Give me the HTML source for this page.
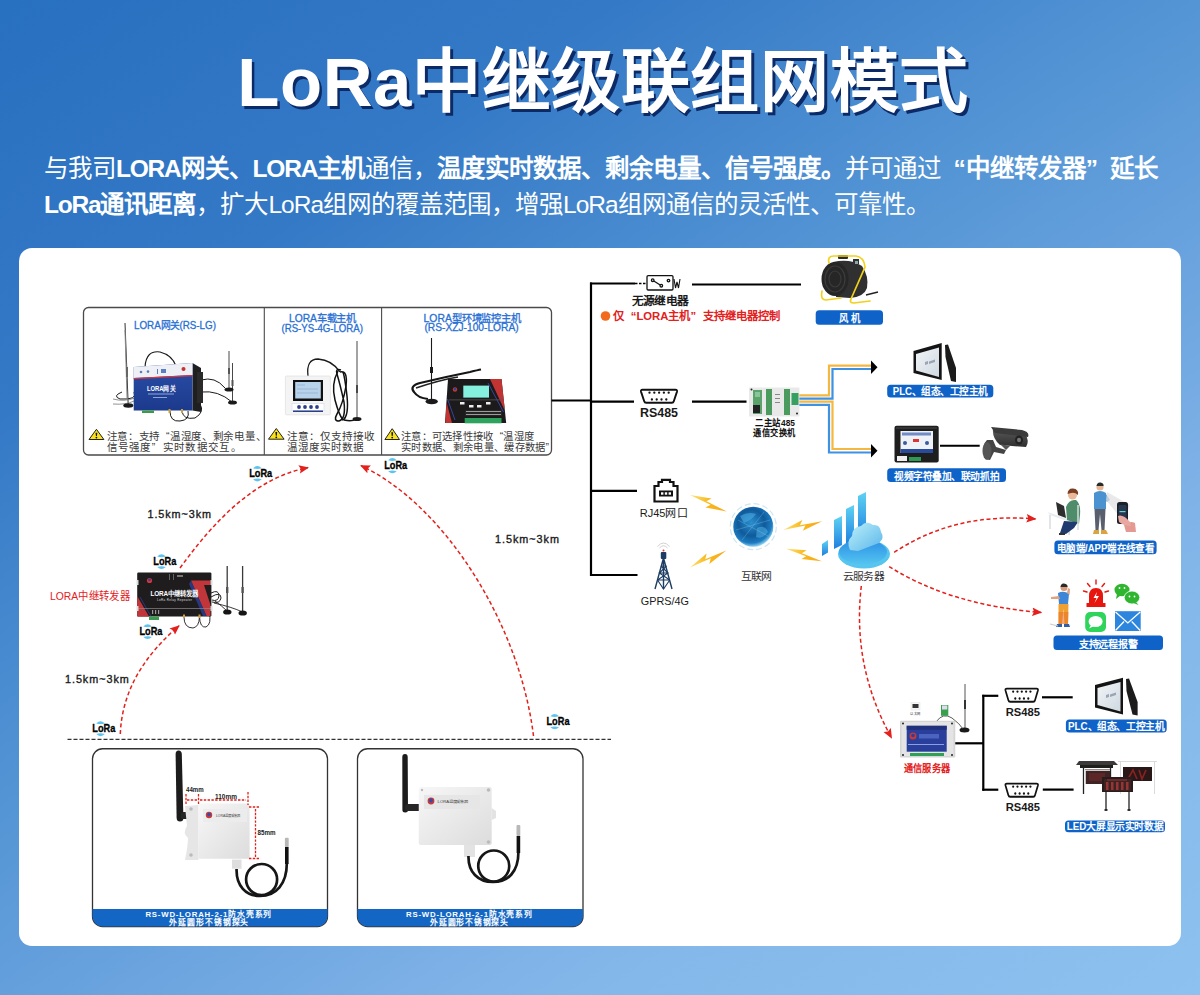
<!DOCTYPE html>
<html lang="zh-CN"><head><meta charset="utf-8">
<style>
html,body{margin:0;padding:0;}
body{width:1200px;height:995px;overflow:hidden;position:relative;font-family:"Liberation Sans",sans-serif;
background:linear-gradient(146deg,#2870c0 0%,#3479c6 23%,#5495d5 45%,#649fdc 55%,#7fb2e7 72%,#84b8ea 78%,#8dc1ef 100%);}
.abs{position:absolute;white-space:nowrap;}
#title{left:0;top:41px;width:1206px;text-align:center;font-size:69px;font-weight:900;letter-spacing:0.6px;color:#fff;line-height:84px;
text-shadow:2.5px 2.5px 0 #0b2a66;}
#para{left:44px;top:150.5px;font-size:24.5px;color:#fff;line-height:36px;}
#para b{font-weight:bold;}
.la{letter-spacing:-1.2px;}.lb{letter-spacing:-1.2px;}.lr{letter-spacing:-1px;}
.ql,.qr{display:inline-block;width:1em;}.ql{text-align:right;}.qr{text-align:left;}
#card{left:19px;top:247.5px;width:1162px;height:698px;background:#fff;border-radius:13px;}
</style></head><body>
<div id="title" class="abs">LoRa中继级联组网模式</div>
<div id="para" class="abs"><span id="l1">与我司<b><span class="la">LORA</span>网关、<span class="la">LORA</span>主机</b>通信，<b>温度实时数据、剩余电量、信号强度。</b>并可通过<b><span class="ql">“</span>中继转发器<span class="qr">”</span>延长</b></span><br><span id="l2"><b><span class="lb">LoRa</span>通讯距离</b>，扩大<span class="lr">LoRa</span>组网的覆盖范围，增强<span class="lr">LoRa</span>组网通信的灵活性、可靠性。</span></div>
<div id="card" class="abs"></div>
<svg class="abs" style="left:0;top:0" width="1200" height="995" viewBox="0 0 1200 995">
<defs>
<marker id="ar" viewBox="0 0 10 10" refX="9" refY="5" markerWidth="10" markerHeight="10" markerUnits="userSpaceOnUse" orient="auto"><path d="M0,0.8 L10,5 L0,9.2 L1.8,5 Z" fill="#e3201b"/></marker>
<linearGradient id="bolt" x1="0" y1="0" x2="1" y2="0"><stop offset="0" stop-color="#fde27a"/><stop offset="0.5" stop-color="#f9b81a"/><stop offset="1" stop-color="#f7a81e"/></linearGradient>
<radialGradient id="globe" cx="0.45" cy="0.4" r="0.6"><stop offset="0" stop-color="#2a8fd0"/><stop offset="0.55" stop-color="#0f5a9a"/><stop offset="0.85" stop-color="#1c7cc2"/><stop offset="1" stop-color="#8fd0f0"/></radialGradient>
</defs>
<!-- product box -->
<rect x="83.5" y="307.5" width="468" height="147.5" rx="5" fill="none" stroke="#4a4a4a" stroke-width="1.3"/>
<line x1="264.3" y1="308" x2="264.3" y2="455" stroke="#4a4a4a" stroke-width="1.1"/>
<line x1="381.6" y1="308" x2="381.6" y2="455" stroke="#4a4a4a" stroke-width="1.1"/>
<!-- bus -->
<g stroke="#000" stroke-width="2.2" fill="none">
<line x1="551.5" y1="400.5" x2="592" y2="400.5"/>
<line x1="591" y1="282.5" x2="591" y2="576"/>
<line x1="590" y1="283.5" x2="635" y2="283.5"/>
<line x1="590" y1="401.6" x2="634" y2="401.6"/>
<line x1="590" y1="490.8" x2="637" y2="490.8"/>
<line x1="590" y1="575" x2="637.5" y2="575"/>
<line x1="692" y1="284.5" x2="801" y2="284.5"/>
<line x1="692" y1="401.7" x2="746.5" y2="401.7"/>
<line x1="955" y1="743.3" x2="984" y2="743.3"/>
<line x1="983.3" y1="694.8" x2="983.3" y2="790.7"/>
<line x1="982.3" y1="695.8" x2="998.3" y2="695.8"/>
<line x1="982.3" y1="789.7" x2="998.3" y2="789.7"/>
<line x1="1042" y1="697.3" x2="1072.7" y2="697.3"/>
<line x1="1042.8" y1="789.6" x2="1073.6" y2="789.6"/>
<line x1="940" y1="445.75" x2="979.7" y2="445.75"/>
</g>
<line x1="635" y1="283.5" x2="647" y2="283.5" stroke="#000" stroke-width="1.3" stroke-dasharray="2.5 1.5"/>
<!-- ground line -->
<line x1="67.5" y1="739.4" x2="611" y2="739.4" stroke="#333" stroke-width="1.1" stroke-dasharray="4 2"/>
<!-- sensor boxes -->
<rect x="92.5" y="748.75" width="235" height="177.75" rx="10" fill="#fff" stroke="#333" stroke-width="1.3"/>
<path d="M92.5,909 H327.5 V916.5 A10,10 0 0 1 317.5,926.5 H102.5 A10,10 0 0 1 92.5,916.5 Z" fill="#1466c4"/>
<rect x="357.5" y="748.75" width="225.5" height="177.75" rx="10" fill="#fff" stroke="#333" stroke-width="1.3"/>
<path d="M357.5,909 H583 V916.5 A10,10 0 0 1 573,926.5 H367.5 A10,10 0 0 1 357.5,916.5 Z" fill="#1466c4"/>
<!-- red dashed arcs -->
<g fill="none" stroke="#e3201b" stroke-width="1.5" stroke-dasharray="4 2.6" marker-end="url(#ar)">
<path d="M180,568 C215,520 255,478 308,467.6"/>
<path d="M533.5,736 C520,625 445,505 361,465.6"/>
<path d="M120.3,734 C122,690 145,655 179,625.8"/>
<path d="M894.2,552.4 Q955,512 1035.5,519"/>
<path d="M889.2,566.6 Q950,605 1041.2,612.5"/>
<path d="M861.3,586 C855,640 865,690 891.5,737.8"/>
</g>
<!-- wires from switch -->
<g fill="none" stroke-width="2.2">
<path d="M799,395.3 H829 V365.6 H872" stroke="#f5b83d"/>
<path d="M799,398.6 H832.5 V369 H872" stroke="#3d92e6"/>
<path d="M799,401.7 H832.5 V449 H872" stroke="#f5b83d"/>
<path d="M799,404.8 H829 V452.5 H872" stroke="#3d92e6"/>
</g>
<path d="M871,360.5 L877.5,367.3 L871,374 Z" fill="#000"/>
<path d="M871,444 L877.5,450.8 L871,457.5 Z" fill="#000"/>
<!-- relay icon -->
<g stroke="#111" fill="none" stroke-width="1.3">
<rect x="647" y="275.6" width="26" height="14.4" rx="1.2" fill="#fff"/>
<circle cx="652.7" cy="280.2" r="1.3"/><circle cx="661.3" cy="285.7" r="1.3"/><circle cx="668.5" cy="280.6" r="1.3"/>
<line x1="653.8" y1="281" x2="660.2" y2="285"/>
<path d="M674,279 L675.5,288 L677,282 L678.5,288 L680,279" stroke-width="1.1"/>
</g>
<!-- DB9 icons -->
<g id="db9a">
<path d="M642.5,389.8 H675.5 Q677.5,389.8 677,391.6 L673.8,401.2 Q673.4,402.7 671.8,402.7 H646.2 Q644.6,402.7 644.2,401.2 L641,391.6 Q640.5,389.8 642.5,389.8 Z" fill="#fff" stroke="#111" stroke-width="1.9"/>
<g fill="#111"><circle cx="649.5" cy="392.7" r="1.15"/><circle cx="654.3" cy="392.7" r="1.15"/><circle cx="659.1" cy="392.7" r="1.15"/><circle cx="663.9" cy="392.7" r="1.15"/><circle cx="668.7" cy="392.7" r="1.15"/>
<circle cx="651.9" cy="399.5" r="1.15"/><circle cx="656.7" cy="399.5" r="1.15"/><circle cx="661.5" cy="399.5" r="1.15"/><circle cx="666.3" cy="399.5" r="1.15"/></g>
</g>
<g transform="translate(1005.5,688.6) scale(0.9,1.02) translate(-641,-389.8)">
<path d="M642.5,389.8 H675.5 Q677.5,389.8 677,391.6 L673.8,401.2 Q673.4,402.7 671.8,402.7 H646.2 Q644.6,402.7 644.2,401.2 L641,391.6 Q640.5,389.8 642.5,389.8 Z" fill="#fff" stroke="#111" stroke-width="1.9"/>
<g fill="#111"><circle cx="649.5" cy="392.7" r="1.15"/><circle cx="654.3" cy="392.7" r="1.15"/><circle cx="659.1" cy="392.7" r="1.15"/><circle cx="663.9" cy="392.7" r="1.15"/><circle cx="668.7" cy="392.7" r="1.15"/>
<circle cx="651.9" cy="399.5" r="1.15"/><circle cx="656.7" cy="399.5" r="1.15"/><circle cx="661.5" cy="399.5" r="1.15"/><circle cx="666.3" cy="399.5" r="1.15"/></g>
</g>
<g transform="translate(1005.5,783.6) scale(0.9,1.02) translate(-641,-389.8)">
<path d="M642.5,389.8 H675.5 Q677.5,389.8 677,391.6 L673.8,401.2 Q673.4,402.7 671.8,402.7 H646.2 Q644.6,402.7 644.2,401.2 L641,391.6 Q640.5,389.8 642.5,389.8 Z" fill="#fff" stroke="#111" stroke-width="1.9"/>
<g fill="#111"><circle cx="649.5" cy="392.7" r="1.15"/><circle cx="654.3" cy="392.7" r="1.15"/><circle cx="659.1" cy="392.7" r="1.15"/><circle cx="663.9" cy="392.7" r="1.15"/><circle cx="668.7" cy="392.7" r="1.15"/>
<circle cx="651.9" cy="399.5" r="1.15"/><circle cx="656.7" cy="399.5" r="1.15"/><circle cx="661.5" cy="399.5" r="1.15"/><circle cx="666.3" cy="399.5" r="1.15"/></g>
</g>
<!-- RJ45 icon -->
<path d="M654.5,501.5 V486 H658.5 V482 H662 V479.8 H670 V482 H673.5 V486 H677.5 V501.5 Z" fill="#fff" stroke="#111" stroke-width="2.2" stroke-linejoin="miter"/>
<rect x="659" y="490.5" width="14" height="6" fill="#111"/>
<g fill="#fff"><rect x="661" y="492.3" width="2.4" height="2.4"/><rect x="664.8" y="492.3" width="2.4" height="2.4"/><rect x="668.6" y="492.3" width="2.4" height="2.4"/></g>
<!-- tower icon -->
<g stroke="#1d3d63" fill="none" stroke-width="1.4">
<path d="M663.5,558 L655,589 M663.5,558 L672,589 M663.5,558 V589"/>
<path d="M661,566 L666.5,566 M659.3,573 L668,573 M657.5,580 L669.8,580 M661,566 L668,573 L657.5,580 M666.5,566 L659.3,573 L669.8,580 M657.5,580 L663.5,589 L669.8,580" stroke-width="1.1"/>
</g>
<rect x="660.8" y="552" width="5.5" height="7" rx="1" fill="#1d3d63"/>
<circle cx="663.5" cy="550.5" r="1" fill="#e23a2a"/>
<path d="M659.5,548 Q663.5,543.5 667.5,548 M657.5,546.5 Q663.5,539.5 669.5,546.5" stroke="#bbb" stroke-width="0.7" fill="none"/>
<!-- lightning bolts -->
<g fill="url(#bolt)">
<path transform="translate(690,495) rotate(23.4) scale(1.061)" d="M0,0 L20,-5 L16.5,-0.8 L38,0.5 L18,5 L21.5,0.8 Z"/>
<path transform="translate(690,567.5) rotate(-25.9) scale(1.053)" d="M0,0 L20,-5 L16.5,-0.8 L38,0.5 L18,5 L21.5,0.8 Z"/>
<path transform="translate(783.3,530) rotate(-13.5) scale(1.047)" d="M0,0 L20,-5 L16.5,-0.8 L38,0.5 L18,5 L21.5,0.8 Z"/>
<path transform="translate(786,548.7) rotate(18.4) scale(0.999)" d="M0,0 L20,-5 L16.5,-0.8 L38,0.5 L18,5 L21.5,0.8 Z"/>
</g>
<!-- globe -->
<circle cx="753.3" cy="526.7" r="23" fill="none" stroke="#cfe6f2" stroke-width="1.2" stroke-dasharray="6 3"/>
<circle cx="753.3" cy="526.7" r="20" fill="url(#globe)"/>
<path d="M740,516 Q748,511 756,514 Q752,520 744,523 Z M757,528 Q765,524 768,532 Q762,540 756,537 Z" fill="#4fb0e6" opacity="0.55"/>
<path d="M736,530 L770,520 M742,540 L764,512 M738,520 L768,536" stroke="#9ad8f5" stroke-width="0.4" opacity="0.7"/>
<!-- cloud server -->
<defs>
<linearGradient id="bar" x1="0" y1="1" x2="0" y2="0"><stop offset="0" stop-color="#1f7fe0"/><stop offset="1" stop-color="#5fd3f2"/></linearGradient>
<linearGradient id="base" x1="0" y1="0" x2="0" y2="1"><stop offset="0" stop-color="#2a8fe6"/><stop offset="1" stop-color="#55c4f0"/></linearGradient>
<linearGradient id="cl" x1="0" y1="0" x2="1" y2="1"><stop offset="0" stop-color="#bdf0fa"/><stop offset="1" stop-color="#5ab6ea"/></linearGradient>
</defs>
<path d="M822,544 L828,540 V552.5 L822,556 Z" fill="url(#bar)"/>
<path d="M834,520 L842,516 V545 L834,549 Z" fill="url(#bar)"/>
<path d="M846,509 L854,505 V540 L846,544 Z" fill="url(#bar)"/>
<path d="M858,496 L866,492 V534 L858,538 Z" fill="url(#bar)"/>
<ellipse cx="864" cy="554" rx="26" ry="14.5" fill="#56c6ef"/>
<ellipse cx="863" cy="552" rx="24" ry="12.5" fill="url(#base)"/>
<path d="M850,550 Q846,541 852,536 Q852,527 861,526 Q866,520 873,525 Q880,524 881,532 Q885,538 879,543 L858,551 Z" fill="url(#cl)"/>
<defs>
<linearGradient id="gwblue" x1="0" y1="0" x2="0" y2="1"><stop offset="0" stop-color="#2a4ea8"/><stop offset="1" stop-color="#1c3a8c"/></linearGradient>
<linearGradient id="wbox" x1="0" y1="0" x2="1" y2="1"><stop offset="0" stop-color="#f7f7f7"/><stop offset="1" stop-color="#dcdcdc"/></linearGradient>
<linearGradient id="scr" x1="0" y1="0" x2="1" y2="1"><stop offset="0" stop-color="#f0f4f8"/><stop offset="1" stop-color="#c9d3dc"/></linearGradient>
</defs>
<!-- ===== S1 gateway ===== -->
<g fill="none" stroke="#1a1a1a" stroke-width="0.9">
<path d="M125,323 L128.2,405"/>
<path d="M122,392 Q112,396 120,399 Q138,400 134,392" stroke-width="1"/>
<path d="M113,399 Q124,402 135,398 M113,404 Q126,405 134,401" stroke="#777" stroke-width="0.8"/>
<path d="M145,367 Q146,350 160,352 Q172,355 176,366" stroke-width="1.1"/>
<path d="M201,380 Q215,376 225,388 M201,392 Q218,390 232,402" stroke-width="1"/>
<path d="M170,411 Q170,422 180,421 Q190,420 188,411 M182,411 Q183,420 195,418 Q205,412 200,404" stroke-width="1"/>
</g>
<path d="M124.5,330 L125.5,330 L127.6,400 L126.6,400Z" fill="#888"/>
<rect x="126" y="367" width="2" height="10" fill="#666"/>
<ellipse cx="128.3" cy="405.5" rx="5" ry="2.2" fill="#1a1a1a"/>
<g stroke="#333" stroke-width="0.9"><line x1="229" y1="351" x2="229" y2="389"/><line x1="232.5" y1="363" x2="232.5" y2="402"/></g>
<rect x="228" y="368" width="2" height="6" fill="#555"/><rect x="231.5" y="380" width="2" height="6" fill="#555"/>
<ellipse cx="229" cy="389.5" rx="4.5" ry="2" fill="#1a1a1a"/><ellipse cx="232.5" cy="402.5" rx="4.5" ry="2" fill="#1a1a1a"/>
<path d="M192.5,363 L201,368 L201,412 L192.5,410.5 Z" fill="#1f1f1f"/>
<path d="M197,372 L203,372 L203,403 L197,403Z" fill="#2a2a2a"/>
<path d="M133.7,367 L192.5,363 L192.5,410.5 L133.7,410.5 Z" fill="url(#gwblue)"/>
<path d="M133.7,367 L192.5,363 L192.5,375 L133.7,378 Z" fill="#eef0f5"/>
<path d="M133.7,378 L192.5,375 L192.5,376.2 L133.7,379.2 Z" fill="#d9363e"/>
<g fill="#5a7fc0"><circle cx="141" cy="372" r="1.3"/><circle cx="148" cy="371.6" r="1.3"/><rect x="157" y="369" width="1" height="5"/><rect x="161" y="369" width="5" height="4"/></g>
<circle cx="183.5" cy="369" r="2" fill="#c83030"/>
<text x="147" y="391" font-size="6.5" font-weight="bold" fill="#fff" textLength="29" lengthAdjust="spacingAndGlyphs">LORA网关</text>
<rect x="148" y="393.5" width="26" height="1" fill="#8fa6d8"/><rect x="153" y="397" width="14" height="1" fill="#8fa6d8"/>
<rect x="142" y="410.5" width="12" height="2.5" fill="#3d9a4a"/>
<rect x="168.5" y="409" width="2" height="4" fill="#c9a040"/><rect x="181" y="409" width="2" height="4" fill="#c9a040"/>
<!-- ===== S2 car host ===== -->
<path d="M308,376 Q306,359 318,359 Q332,360 340,372" fill="none" stroke="#1a1a1a" stroke-width="1.3"/>
<g fill="none" stroke="#111" stroke-width="1.5">
<path d="M340,372 Q348,370 346,386 Q343,404 337,414 Q333,421 339,421 Q346,419 344,402 Q340,384 337,374 Q335,368 341,370"/>
<path d="M338,371 Q331,384 335,400 Q339,415 343,420 Q349,416 347,396 Q345,378 343,372"/>
<path d="M344,420 Q352,422 356,419"/>
</g>
<line x1="357" y1="341" x2="357" y2="417" stroke="#666" stroke-width="1.2"/>
<rect x="356.2" y="385" width="1.6" height="8" fill="#333"/>
<ellipse cx="357" cy="419" rx="4.5" ry="2" fill="#1a1a1a"/>
<rect x="285.4" y="376" width="45" height="38.8" rx="1" fill="#f4f4f4" stroke="#e2e2e2" stroke-width="0.8"/>
<rect x="293" y="380" width="30" height="21" fill="#111"/>
<rect x="295.2" y="382" width="25.6" height="16.5" fill="#b8d2ea"/>
<g stroke="#7a9bbd" stroke-width="0.5"><line x1="297" y1="385" x2="305" y2="385"/><line x1="297" y1="389" x2="318" y2="389"/><line x1="297" y1="393" x2="318" y2="393"/></g>
<rect x="292" y="403.5" width="32" height="7" fill="#fff" stroke="#c8d2e6" stroke-width="0.5"/>
<g fill="#2b3f8a"><circle cx="299" cy="407" r="1.9"/><circle cx="305" cy="407" r="1.9"/><circle cx="311" cy="407" r="1.9"/><circle cx="317" cy="407" r="1.9"/></g>
<rect x="293" y="410.5" width="30" height="1.5" fill="#2b3f8a"/>
<!-- ===== S3 env host ===== -->
<path d="M431.5,338 L431.5,399" stroke="#1a1a1a" stroke-width="1.1"/>
<rect x="430" y="367" width="3" height="6" fill="#1a1a1a"/>
<path d="M428,399 Q418,398 414,392 Q409,386 420,383 Q445,377 470,372 Q478,370 481,369.5" fill="none" stroke="#151515" stroke-width="2.2"/>
<path d="M416,388 Q440,380 458,377" fill="none" stroke="#222" stroke-width="1.6"/>
<ellipse cx="431.7" cy="401.5" rx="6.2" ry="2.8" fill="#1a1a1a"/>
<path d="M448,379 L501.5,379 L506.2,423 L445,423 Z" fill="#1c1a1b"/>
<path d="M490,379 L501.5,379 L504.5,407 L504,409 Z" fill="#c23434"/>
<path d="M488,383 L503.5,412" stroke="#3a48b0" stroke-width="0.9"/>
<path d="M446.5,402 L452,423 L445.3,423 Z" fill="#c23434"/>
<path d="M447.5,399 L455,420" stroke="#3a48b0" stroke-width="0.9"/>
<rect x="463.3" y="385.6" width="25.7" height="12" fill="#86f0df"/>
<circle cx="455" cy="389.5" r="2.2" fill="#c83838"/><circle cx="455" cy="389" r="1.2" fill="#2a44a0"/>
<rect x="449" y="399.5" width="54" height="0.8" fill="#555"/>
<g fill="#eee"><rect x="460" y="402" width="4.5" height="2.5"/><rect x="469" y="405" width="4.5" height="2.5"/><rect x="477" y="405" width="4.5" height="2.5"/><rect x="486" y="402" width="4.5" height="2.5"/></g>
<rect x="465" y="410" width="37" height="6" fill="#262626"/>
<g fill="#bbb"><rect x="466" y="411" width="35" height="0.8"/><rect x="466" y="414" width="35" height="0.8"/></g>
<rect x="464.7" y="418" width="36.8" height="5.3" fill="#2ea35e"/>
<!-- ===== repeater ===== -->
<g fill="none" stroke="#222" stroke-width="0.9">
<path d="M211,593 Q219,589 219,596 Q218,602 212,600 M211,597 Q221,591 221,598 Q220,604 212,602" stroke-width="1"/>
<path d="M215,601 Q222,606 227,611 M214,603 Q232,607 242.5,612"/>
<path d="M184,617 Q184,628 193,628 Q199,627 199.5,617 M199.5,617 Q200,628 206,627 Q212,624 209,612" stroke="#333" stroke-width="1"/>
</g>
<g stroke="#3a3a3a" stroke-width="1.3"><line x1="227.2" y1="566" x2="227.2" y2="611"/><line x1="242.6" y1="566" x2="242.6" y2="612"/></g>
<rect x="226" y="587" width="2.4" height="6" fill="#555"/><rect x="241.4" y="587" width="2.4" height="6" fill="#555"/>
<ellipse cx="227.3" cy="612" rx="4.2" ry="2.6" fill="#151515"/><ellipse cx="242.7" cy="613" rx="4.2" ry="2.6" fill="#151515"/>
<rect x="137.2" y="572.5" width="74.2" height="44" rx="1.2" fill="#1e1c1d"/>
<path d="M191,580.5 L210.5,580.5 L210.5,585 L204,585 L210.5,605 L210.5,616 L206.5,616 Z" fill="#c0363a"/>
<path d="M191,580.5 L206.5,616 L203,616 L189,584 Z" fill="#2a3f9a" opacity="0.8"/>
<path d="M137.2,596 L149,616.5 L137.2,616.5 Z" fill="#c0363a"/>
<path d="M140,597 L151,616.5" stroke="#2a3f9a" stroke-width="0.8"/>
<rect x="137.2" y="608" width="74" height="0.7" fill="#8a8a8a"/>
<rect x="136.5" y="580" width="2" height="5" fill="#ddd"/><rect x="136.5" y="606" width="2" height="5" fill="#ddd"/>
<rect x="210.5" y="580" width="2" height="5" fill="#ddd"/><rect x="210.5" y="606" width="2" height="5" fill="#ddd"/>
<text x="150.5" y="595.5" font-size="6.4" font-weight="bold" fill="#fff" textLength="47" lengthAdjust="spacing">LORA中继转发器</text>
<text x="157" y="600.5" font-size="3" fill="#ddd" textLength="35" lengthAdjust="spacing">LoRa Relay Repeater</text>
<circle cx="149.5" cy="580.5" r="2.6" fill="#d33"/><circle cx="149.5" cy="579.8" r="1.4" fill="#2a44a0"/>
<g fill="#777"><rect x="169" y="574" width="0.8" height="6"/><rect x="173" y="574" width="0.8" height="6"/><rect x="177" y="575" width="6" height="2"/></g>
<rect x="149" y="616.5" width="10" height="3.5" fill="#3a9a50"/>
<g fill="#999"><rect x="152" y="610" width="1.2" height="4"/><rect x="155" y="610" width="1.2" height="4"/><rect x="158" y="610" width="1.2" height="4"/></g>
<rect x="183" y="614.5" width="2" height="3.5" fill="#c9a040"/><rect x="198.5" y="614.5" width="2" height="3.5" fill="#c9a040"/>
<defs>
<radialGradient id="fanface" cx="0.5" cy="0.5" r="0.5"><stop offset="0" stop-color="#1a1a1a"/><stop offset="0.6" stop-color="#2a2a2a"/><stop offset="0.85" stop-color="#3a3a3a"/><stop offset="1" stop-color="#222"/></radialGradient>
<linearGradient id="camg" x1="0" y1="0" x2="0" y2="1"><stop offset="0" stop-color="#5a5a5a"/><stop offset="1" stop-color="#2e2e2e"/></linearGradient>
<linearGradient id="mon" x1="0" y1="0" x2="1" y2="1"><stop offset="0" stop-color="#f2f5f8"/><stop offset="1" stop-color="#cfd8e0"/></linearGradient>
</defs>
<!-- ===== fan ===== -->
<path d="M833,262 Q850,258 862,266 Q869,276 867,288 Q864,297 850,298 L836,297 Z" fill="#303030"/>
<rect x="838" y="255" width="10" height="4" rx="1" fill="#2a2a2a"/>
<rect x="853" y="259" width="6" height="5" fill="#333"/><rect x="855" y="261" width="3" height="3" fill="#8aa"/>
<ellipse cx="835" cy="279" rx="13.5" ry="17" fill="#262626"/>
<ellipse cx="835" cy="279" rx="10" ry="13" fill="none" stroke="#3c3c3c" stroke-width="1.2"/>
<ellipse cx="835" cy="279" rx="6" ry="8" fill="none" stroke="#3a3a3a" stroke-width="1.2"/>
<g fill="none" stroke="#f0d21c" stroke-width="1.7" stroke-linecap="round">
<path d="M829,263 Q827,256 834,256 L856,256 Q864,257 865,267 L851,299 Q849,303 854,303 L870,301"/>
<path d="M822,291 Q820,300 826,300 L841,298"/>
</g>
<path d="M866,295 L878,292" stroke="#222" stroke-width="1.4"/>
<!-- ===== switch module ===== -->
<rect x="749" y="387.5" width="50.4" height="29" fill="#e9e9e9"/>
<rect x="753" y="390" width="9" height="24" fill="#5aa36a"/>
<rect x="755" y="392" width="5" height="5" fill="#8ac49a"/>
<rect x="753" y="405" width="7" height="8" fill="#222"/>
<rect x="766" y="389" width="6" height="26" fill="#4b9a5e"/>
<rect x="784" y="389" width="6" height="26" fill="#4b9a5e"/>
<rect x="791.5" y="393" width="7" height="12" fill="#36a060"/>
<g fill="#888"><rect x="775" y="394" width="5" height="1"/><rect x="775" y="398" width="5" height="1"/><rect x="775" y="402" width="5" height="1"/></g>
<circle cx="751.5" cy="389.5" r="1" fill="#222"/><circle cx="797" cy="413.5" r="1" fill="#222"/>
<!-- ===== monitor 1 ===== -->
<path d="M913.5,351 L941.7,343.1 L941.7,380 L913.5,372.9 Z" fill="#141414"/>
<path d="M916,354 L939,347.5 L939,377 L916,370.5 Z" fill="url(#mon)"/>
<path d="M925,362 L928,361 L928,364 L925,365Z M929,361.5 L935,359.5 L935,362 L929,364Z" fill="#6a7a90" opacity="0.6"/>
<path d="M945,345 L948,344.5 L956,368 L956,382 L951,381 L945.5,357 Z" fill="#1b1b1b"/>
<!-- ===== video box ===== -->
<rect x="894.5" y="425.7" width="44.2" height="36.9" rx="2" fill="#1e1e1e"/>
<rect x="896" y="427" width="41" height="2" fill="#333"/>
<rect x="900.5" y="431" width="32.5" height="22" fill="#eef2f6"/>
<rect x="902" y="432.5" width="29" height="3" fill="#3a60b0" opacity="0.7"/>
<rect x="913" y="439" width="6" height="3" fill="#d33"/>
<circle cx="905" cy="443" r="2" fill="#3a5aa0"/><circle cx="927" cy="443" r="2" fill="#3a5aa0"/>
<rect x="900.5" y="449" width="32.5" height="4" fill="#2a4a9a"/>
<rect x="897" y="456" width="10" height="5" fill="#f0f0f0"/><rect x="909" y="457" width="12" height="4" fill="#2f9a55"/>
<!-- ===== camera ===== -->
<path d="M984,452 Q982,445 987,440 L993,440 L996,447 L1006,450 L1004,454 L994,452 L990,460 Q985,460 984,452 Z" fill="#444"/>
<ellipse cx="987" cy="451" rx="4.5" ry="9" fill="#555"/>
<path d="M993,429 L1025,434 Q1030,440 1026,447 L1000,445 Q992,438 993,429 Z" fill="url(#camg)"/>
<path d="M991,427 L1022,430 Q1030,432 1028,437 L995,433 Z" fill="#3b3b3b"/>
<ellipse cx="1019" cy="440" rx="4" ry="4.5" fill="#222"/>
<ellipse cx="1019" cy="440" rx="2" ry="2.3" fill="#777"/>
<path d="M1000,444 L1006,450 L1010,446" fill="#555"/>
<!-- ===== communication server ===== -->
<line x1="965" y1="684" x2="965" y2="729" stroke="#555" stroke-width="1"/>
<rect x="964" y="700" width="2" height="9" fill="#333"/>
<ellipse cx="964.5" cy="730" rx="5" ry="2.5" fill="#1a1a1a"/>
<path d="M936,722 Q943,712 952,718 Q960,724 963,729" fill="none" stroke="#333" stroke-width="0.8"/>
<rect x="900" y="720.8" width="55.3" height="36.7" rx="1" fill="#d5d5d5"/>
<rect x="901.5" y="722" width="52" height="34" fill="#e4e4e4"/>
<rect x="906.7" y="725.8" width="40" height="25.9" fill="#2a3f9c"/>
<rect x="906.7" y="725.8" width="40" height="4" fill="#20307a"/>
<circle cx="913" cy="736" r="3.5" fill="#c83838"/><circle cx="913" cy="735.5" r="1.8" fill="#2a3f9c"/>
<rect x="919" y="734" width="20" height="4.5" fill="#4a64c0"/>
<rect x="908" y="744" width="36" height="1" fill="#8aa0e0"/>
<rect x="910" y="753" width="34" height="3" fill="#2fa055"/>
<g fill="#222"><circle cx="903" cy="723.5" r="1"/><circle cx="952" cy="723.5" r="1"/><circle cx="903" cy="755" r="1"/><circle cx="952" cy="755" r="1"/></g>
<!-- tiny RJ45 + card -->
<rect x="911" y="702.5" width="9" height="7.5" fill="#f5f5f5" stroke="#ddd" stroke-width="0.4"/>
<rect x="912.5" y="704" width="6" height="4" fill="#333"/>
<text x="910" y="714.5" font-size="3.6" fill="#333" textLength="11" lengthAdjust="spacingAndGlyphs">以太网</text>
<rect x="941" y="705" width="7.3" height="10.8" fill="#3aa050"/><rect x="942" y="705.5" width="5.3" height="4" fill="#dde"/>
<!-- ===== monitor 2 ===== -->
<path d="M1095,685 L1123,677.7 L1123,714.4 L1095,707.5 Z" fill="#141414"/>
<path d="M1097.5,688 L1120.5,682 L1120.5,711.5 L1097.5,705 Z" fill="url(#mon)"/>
<path d="M1106,695 L1109,694 L1109,697 L1106,698Z M1110,694.5 L1116,692.5 L1116,695 L1110,697Z" fill="#6a7a90" opacity="0.6"/>
<path d="M1126,679 L1129,678.5 L1137.6,702 L1137.6,715.5 L1132.5,714.5 L1126.5,691 Z" fill="#1b1b1b"/>
<!-- ===== LED screens ===== -->
<path d="M1079,761 L1114,761 L1118,765 L1076,765 Z" fill="#3d3939"/>
<rect x="1080" y="765" width="33" height="3" fill="#1e1e1e"/>
<line x1="1083.5" y1="765" x2="1083.5" y2="794" stroke="#222" stroke-width="1.3"/>
<line x1="1110.5" y1="765" x2="1110.5" y2="778" stroke="#222" stroke-width="1.3"/>
<rect x="1085" y="769" width="25" height="15" fill="#3e2424"/>
<rect x="1089" y="773" width="16" height="8" fill="#6a2a2a" opacity="0.7"/>
<g fill="#f2f2f2"><rect x="1085" y="769.5" width="25" height="1.3"/><rect x="1084.5" y="770" width="1.3" height="14"/></g>
<g stroke="#d2d2d2" stroke-width="0.8" fill="none"><path d="M1118,761.5 H1157 M1120.5,761.5 V794 M1154.5,761.5 V794"/></g>
<rect x="1123" y="767" width="29" height="14" fill="#2a1818"/>
<path d="M1128,779 L1133,770 L1137,779 M1139,770 L1142,779 L1146,770" stroke="#8a2222" stroke-width="1.6" fill="none"/>
<rect x="1102" y="777" width="31" height="15" fill="#2a1c1c"/>
<rect x="1104" y="779" width="27" height="12" fill="#3e2222"/>
<g fill="#a33a3a" opacity="0.85"><rect x="1106" y="782" width="2.5" height="8"/><rect x="1111" y="782" width="2.5" height="8"/><rect x="1116" y="782" width="2.5" height="8"/><rect x="1121" y="782" width="2.5" height="8"/><rect x="1126" y="782" width="2.5" height="8"/><rect x="1107" y="779.5" width="20" height="1" /></g>
<line x1="1106" y1="792" x2="1106" y2="810" stroke="#222" stroke-width="1.3"/>
<line x1="1129" y1="792" x2="1129" y2="810" stroke="#222" stroke-width="1.3"/>
<ellipse cx="1106" cy="810" rx="1.8" ry="1" fill="#222"/><ellipse cx="1129" cy="810" rx="1.8" ry="1" fill="#222"/>
<!-- ===== person at desk ===== -->
<path d="M1048,512 L1070,520 L1072,523 L1050,515 Z" fill="#e8ecef"/>
<line x1="1050" y1="515" x2="1050" y2="529" stroke="#cfd4d8" stroke-width="1.2"/>
<line x1="1070" y1="522" x2="1069" y2="535" stroke="#cfd4d8" stroke-width="1.2"/>
<path d="M1056,502 L1064,506 L1066,518 L1058,515 Z" fill="#2d2d2d"/>
<path d="M1066,507 Q1069,499 1076,500 Q1081,504 1080,515 L1079,524 L1067,520 Z" fill="#4e8c6a"/>
<path d="M1064,521 L1078,522 L1074,528 L1066,534 L1060,533 Z" fill="#1f3a6e"/>
<circle cx="1072.5" cy="495" r="4.5" fill="#e9b99a"/>
<path d="M1067.5,494 Q1068,488 1073,488.5 Q1079,489 1078,495 Q1075,492 1071,493 Z" fill="#7a3f20"/>
<rect x="1059" y="533" width="6" height="2" fill="#333"/>
<line x1="1078" y1="505" x2="1078" y2="530" stroke="#d8dde0" stroke-width="1.5"/>
<!-- ===== standing man ===== -->
<circle cx="1100" cy="487" r="3.6" fill="#e6b593"/>
<path d="M1096.5,486 Q1097,482 1100.5,482.5 Q1104,483 1103.5,486 Z" fill="#2b2b2b"/>
<path d="M1094,493 Q1100,489 1106,493 L1106,509 L1094,509 Z" fill="#4a92d0"/>
<path d="M1106,494 L1110,500 L1107,502 L1104,497 Z" fill="#4a92d0"/>
<path d="M1094.5,509 L1105.5,509 L1104.5,530 L1101.5,530 L1100,514 L1098.5,530 L1095.5,530 Z" fill="#5a5f6e"/>
<path d="M1094,530 L1099,530 L1099,534 L1093,534 Z M1101,530 L1106,530 L1108,534 L1101,534 Z" fill="#d9a441"/>
<path d="M1107,492 L1130,505 L1124,522 L1106,500 Z" fill="#e2e2e2" opacity="0.75"/>
<!-- phone with hand -->
<path d="M1124,525 Q1130,520 1135,523 L1136,532 L1126,532 Z" fill="#e49a92"/>
<rect x="1117" y="502" width="11" height="22" rx="2.5" fill="#1a1f2a"/>
<rect x="1118.5" y="505" width="8" height="16" rx="1" fill="#26384e"/>
<rect x="1119.5" y="511" width="6" height="1.2" fill="#6ad0d0"/>
<path d="M1118,516 Q1123,514 1130,522 L1131,526 Q1124,526 1119,522 Z" fill="#e8a79f"/>
<!-- ===== person with phone (alarm) ===== -->
<circle cx="1064" cy="587.5" r="3.5" fill="#d89a7a"/>
<path d="M1060.5,587 Q1061,583 1064,583.5 Q1068,584 1067.5,587 Z" fill="#2a2a2a"/>
<path d="M1058,593 Q1064,590 1069,594 L1068,604 L1059,604 Z" fill="#3d86d8"/>
<path d="M1059,596 L1051,597 L1051,599 L1060,599 Z" fill="#e0a27f"/>
<path d="M1067,593 L1068,588 L1070,589 L1069.5,595 Z" fill="#e0a27f"/>
<path d="M1058.5,604 L1068.5,604 L1068,624 L1064.5,624 L1063.5,609 L1062,624 L1058.5,624 Z" fill="#f0a030"/>
<path d="M1058.5,612 L1068.5,612 L1068,624 L1058.5,624 Z" fill="#e8742a" opacity="0.6"/>
<path d="M1057,624 L1062,624 L1062,627 L1056,627 Z M1064,624 L1069,624 L1070,627 L1064,627 Z" fill="#3060a8"/>
<path d="M1050,624 L1058,626" stroke="#ccc" stroke-width="1.2"/>
<!-- siren -->
<path d="M1089,606 V596 Q1089,588 1096,588 Q1103,588 1103,596 V606 Z" fill="#e8150f"/>
<rect x="1086.5" y="603" width="19" height="4" rx="0.5" fill="#e8150f"/>
<path d="M1097,592 L1093.5,598 L1096.5,598 L1094.5,603 L1099,596 L1096,596 Z" fill="#fff"/>
<g stroke="#e8150f" stroke-width="1.4" stroke-linecap="round">
<line x1="1096" y1="580" x2="1096" y2="584"/><line x1="1087.5" y1="583.5" x2="1090" y2="586.5"/><line x1="1104.5" y1="583.5" x2="1102" y2="586.5"/>
<line x1="1083.5" y1="591" x2="1087" y2="592"/><line x1="1108.5" y1="591" x2="1105" y2="592"/>
</g>
<!-- wechat -->
<ellipse cx="1122" cy="590" rx="7.5" ry="6.2" fill="#2fb52f"/>
<path d="M1117,594 L1116,599 L1120.5,595.5 Z" fill="#2fb52f"/>
<ellipse cx="1132" cy="597.5" rx="7.8" ry="6.5" fill="#2fb52f" stroke="#fff" stroke-width="0.8"/>
<path d="M1136,602 L1138.5,605 L1133.5,603 Z" fill="#2fb52f"/>
<g fill="#fff"><circle cx="1119.5" cy="588" r="0.9"/><circle cx="1124.5" cy="588" r="0.9"/><circle cx="1129.5" cy="596.5" r="0.9"/><circle cx="1134.5" cy="596.5" r="0.9"/></g>
<!-- messages -->
<rect x="1085.2" y="612" width="20.8" height="20" rx="5" fill="#2fd45a"/>
<ellipse cx="1095.6" cy="621.5" rx="7" ry="5.5" fill="#fff"/>
<path d="M1091,625 L1089,628.5 L1094,626 Z" fill="#fff"/>
<!-- mail -->
<rect x="1115" y="611.2" width="25.7" height="19.8" fill="#2d86de"/>
<path d="M1115.5,612 L1127.85,623 L1140.2,612 M1115.5,630.5 L1124,621.5 M1140.2,630.5 L1131.7,621.5" fill="none" stroke="#fff" stroke-width="1.3"/>
<!-- ===== sensor 1 ===== -->
<path d="M175.6,754 Q175.6,750.4 178.6,750.4 Q181.6,750.4 181.8,754 L183.4,818 Q183.4,821.5 180,821.5 Q176.8,821.5 176.6,818 Z" fill="#1c1c1c"/>
<rect x="181" y="812" width="16" height="7" rx="2" fill="#262626"/>
<path d="M185,806 L198.5,805 L198.5,860 L185,860 Q188,845 188,838 Q182,833 187,826 Z" fill="#e6e6e6"/>
<circle cx="191" cy="809" r="1.8" fill="#bbb"/><circle cx="191" cy="855" r="1.8" fill="#bbb"/>
<rect x="198.5" y="803.5" width="51.1" height="55.25" rx="1.5" fill="url(#wbox)"/>
<rect x="203" y="809" width="44" height="13" fill="#ececec"/>
<circle cx="209" cy="815" r="3.2" fill="#c83838"/><circle cx="209" cy="814.5" r="1.8" fill="#2b4fb0"/>
<text x="216" y="817" font-size="3.4" fill="#444" textLength="24" lengthAdjust="spacingAndGlyphs">LORA温度采集器</text>
<rect x="232" y="859.6" width="9.5" height="9.1" fill="#dedede"/>
<g fill="none" stroke="#161616" stroke-width="2.7">
<path d="M236.6,869 C236,886 246,896 260,896 C276,896 287,884 286.8,863"/>
<ellipse cx="261.6" cy="879.5" rx="15.5" ry="15.5"/>
</g>
<rect x="284.9" y="837.7" width="3.8" height="9.5" rx="1" fill="#b8b8b8"/>
<rect x="285" y="847" width="3.6" height="17" fill="#111"/>
<g stroke="#e3201b" stroke-width="1.3" stroke-dasharray="2.4 1.4" fill="none">
<line x1="186" y1="794" x2="186" y2="805"/><line x1="198.5" y1="794" x2="198.5" y2="805"/>
<line x1="187" y1="800" x2="197.5" y2="800"/>
<line x1="200" y1="800" x2="246" y2="800"/><line x1="248" y1="792" x2="248" y2="805"/>
<line x1="249" y1="807" x2="259" y2="807"/><line x1="249" y1="858.5" x2="259" y2="858.5"/>
<line x1="255.5" y1="809" x2="255.5" y2="857"/>
</g>
<text x="186" y="791.5" font-size="6.8" font-weight="bold" fill="#222" textLength="17.7" lengthAdjust="spacingAndGlyphs">44mm</text>
<text x="215" y="799" font-size="6.8" font-weight="bold" fill="#222" textLength="22" lengthAdjust="spacingAndGlyphs">110mm</text>
<text x="257.5" y="835" font-size="6.8" font-weight="bold" fill="#222" textLength="18" lengthAdjust="spacingAndGlyphs">85mm</text>
<!-- ===== sensor 2 ===== -->
<path d="M402.3,757 Q402.3,754 405,754 Q407.7,754 407.7,757 L408,810 Q408,812.5 405.2,812.5 Q402.4,812.5 402.4,810 Z" fill="#1c1c1c"/>
<rect x="405" y="804" width="16" height="7" rx="2" fill="#262626"/>
<rect x="418.75" y="787" width="72.95" height="58" rx="2" fill="url(#wbox)"/>
<circle cx="422" cy="790" r="1.2" fill="#bbb"/><circle cx="488.5" cy="790" r="1.8" fill="#bbb"/><circle cx="488.5" cy="842" r="1.8" fill="#bbb"/>
<path d="M491.7,808 L496,811 L496,818 L491.7,820 Z" fill="#e3e3e3"/>
<rect x="424" y="795" width="56" height="14" fill="#e6e6e6"/>
<circle cx="431" cy="801" r="3.4" fill="#c83838"/><circle cx="431" cy="800.5" r="1.9" fill="#2b4fb0"/>
<text x="437.5" y="802.5" font-size="3.5" fill="#444" textLength="30" lengthAdjust="spacingAndGlyphs">LORA温度采集器</text>
<rect x="464" y="845" width="11" height="12" fill="#e3e3e3"/>
<g fill="none" stroke="#161616" stroke-width="2.7">
<path d="M468.5,856 C468,872 478,882 493,882 C508,882 518.5,872 518.4,852"/>
<ellipse cx="493.75" cy="866" rx="15.5" ry="15.5"/>
</g>
<rect x="516.5" y="825" width="3.8" height="11" rx="1" fill="#b8b8b8"/>
<rect x="516.6" y="836" width="3.6" height="17" fill="#111"/>
<g font-family="Liberation Sans, sans-serif">
<text x="134" y="329.3" font-size="10.5" fill="#1f6fd6" textLength="82" lengthAdjust="spacingAndGlyphs" stroke="#2a6fd3" stroke-width="0.3">LORA网关(RS-LG)</text>
<text x="289" y="322" font-size="10.5" fill="#1f6fd6" textLength="67" lengthAdjust="spacingAndGlyphs" stroke="#2a6fd3" stroke-width="0.3">LORA车载主机</text>
<text x="281.5" y="332" font-size="10.5" fill="#1f6fd6" textLength="81.5" lengthAdjust="spacingAndGlyphs" stroke="#2a6fd3" stroke-width="0.3">(RS-YS-4G-LORA)</text>
<text x="423.6" y="321.5" font-size="10.5" fill="#1f6fd6" textLength="97.4" lengthAdjust="spacingAndGlyphs" stroke="#2a6fd3" stroke-width="0.3">LORA型环境监控主机</text>
<text x="424.4" y="331.3" font-size="10.5" fill="#1f6fd6" textLength="94.3" lengthAdjust="spacingAndGlyphs" stroke="#2a6fd3" stroke-width="0.3">(RS-XZJ-100-LORA)</text>
<text x="106.5" y="439.8" font-size="10.5" fill="#3a3a3a" textLength="159" lengthAdjust="spacing">注意：支持<tspan dx="6">“</tspan>温湿度、剩余电量、</text>
<text x="106.5" y="450.8" font-size="10.5" fill="#3a3a3a" textLength="134" lengthAdjust="spacing">信号强度”<tspan dx="6">实时数据交互。</tspan></text>
<text x="287" y="439.8" font-size="10.6" fill="#3a3a3a">注意：仅支持接收</text>
<text x="287" y="450.8" font-size="10.6" fill="#3a3a3a">温湿度实时数据</text>
<text x="401" y="439.6" font-size="10.3" fill="#3a3a3a" textLength="133" lengthAdjust="spacing">注意：可选择性接收<tspan dx="6">“</tspan>温湿度</text>
<text x="401" y="450.6" font-size="10.3" fill="#3a3a3a" textLength="148" lengthAdjust="spacing">实时数据、剩余电量、缓存数据”</text>
<text x="632" y="304.5" font-size="11.5" fill="#1a1a1a" font-weight="bold" textLength="56" lengthAdjust="spacingAndGlyphs">无源继电器</text>
<circle cx="605.5" cy="316" r="4.8" fill="#f26a1b"/>
<text x="612.7" y="320" font-size="11.3" fill="#e3201b" font-weight="bold" textLength="167.5" lengthAdjust="spacing">仅<tspan dx="7">“</tspan>LORA主机”<tspan dx="7">支持继电器控制</tspan></text>
<text x="640" y="416.7" font-size="12.5" fill="#1a1a1a" font-weight="bold" textLength="38" lengthAdjust="spacingAndGlyphs">RS485</text>
<text x="639.7" y="516.7" font-size="10.8" fill="#1a1a1a" font-weight="500" textLength="48.3" lengthAdjust="spacingAndGlyphs">RJ45网口</text>
<text x="640.8" y="604.5" font-size="10.5" fill="#1a1a1a" font-weight="500" textLength="48.2" lengthAdjust="spacingAndGlyphs">GPRS/4G</text>
<text x="740.8" y="579.5" font-size="10.5" fill="#333" textLength="31" lengthAdjust="spacingAndGlyphs">互联网</text>
<text x="842.7" y="580" font-size="10.5" fill="#333" textLength="41.3" lengthAdjust="spacingAndGlyphs">云服务器</text>
<text x="754.8" y="425.8" font-size="9.5" fill="#111" font-weight="bold" textLength="40.2" lengthAdjust="spacingAndGlyphs">二主站485</text>
<text x="753" y="435.5" font-size="9.5" fill="#111" font-weight="bold" textLength="43" lengthAdjust="spacingAndGlyphs">通信交换机</text>
<rect x="815.7" y="310.3" width="67.3" height="14.4" rx="3.5" fill="#0f63c8"/>
<text x="849.35" y="322" font-size="10.2" fill="#fff" font-weight="bold" textLength="21" lengthAdjust="spacingAndGlyphs" text-anchor="middle">风 机</text>
<rect x="887.2" y="384.7" width="106.1" height="12.8" rx="3.5" fill="#0f63c8"/>
<text x="940.25" y="395.3" font-size="10.2" fill="#fff" font-weight="bold" textLength="95" lengthAdjust="spacingAndGlyphs" text-anchor="middle">PLC、组态、工控主机</text>
<rect x="887.2" y="468.3" width="118.8" height="13.7" rx="3.5" fill="#0f63c8"/>
<text x="946.6" y="479.8" font-size="10.2" fill="#fff" font-weight="bold" textLength="105" lengthAdjust="spacingAndGlyphs" text-anchor="middle">视频字符叠加、联动抓拍</text>
<rect x="1054.4" y="540.6" width="102.2" height="13.6" rx="3.5" fill="#0f63c8"/>
<text x="1105.5" y="551.8" font-size="10.2" fill="#fff" font-weight="bold" textLength="97" lengthAdjust="spacingAndGlyphs" text-anchor="middle">电脑端/APP端在线查看</text>
<rect x="1053.5" y="635.6" width="109.5" height="14.4" rx="3.5" fill="#0f63c8"/>
<text x="1108.25" y="647.6" font-size="10.2" fill="#fff" font-weight="bold" textLength="59" lengthAdjust="spacingAndGlyphs" text-anchor="middle">支持远程报警</text>
<rect x="1065.9" y="719.5" width="100.8" height="12.9" rx="3.5" fill="#0f63c8"/>
<text x="1116.3000000000002" y="730.3" font-size="10.2" fill="#fff" font-weight="bold" textLength="96.6" lengthAdjust="spacingAndGlyphs" text-anchor="middle">PLC、组态、工控主机</text>
<rect x="1065" y="820.4" width="100.0" height="11.9" rx="3.5" fill="#0f63c8"/>
<text x="1115.0" y="830.3" font-size="10.2" fill="#fff" font-weight="bold" textLength="96.6" lengthAdjust="spacingAndGlyphs" text-anchor="middle">LED大屏显示实时数据</text>
<text x="147.5" y="517.5" font-size="10.8" fill="#1a1a1a" textLength="63.5" lengthAdjust="spacing" stroke="#1a1a1a" stroke-width="0.35">1.5km~3km</text>
<text x="65" y="682.5" font-size="10.8" fill="#1a1a1a" textLength="63.75" lengthAdjust="spacing" stroke="#1a1a1a" stroke-width="0.35">1.5km~3km</text>
<text x="495" y="542.5" font-size="10.8" fill="#1a1a1a" textLength="64" lengthAdjust="spacing" stroke="#1a1a1a" stroke-width="0.35">1.5km~3km</text>
<text x="50" y="600" font-size="11" fill="#e3201b" font-weight="500" textLength="80" lengthAdjust="spacingAndGlyphs">LORA中继转发器</text>
<text x="904" y="771.7" font-size="10" fill="#e3201b" font-weight="bold" textLength="46" lengthAdjust="spacingAndGlyphs">通信服务器</text>
<text x="1005.8" y="716.3" font-size="11.2" fill="#1a1a1a" font-weight="bold" textLength="34.2" lengthAdjust="spacingAndGlyphs">RS485</text>
<text x="1005.8" y="810.8" font-size="11.2" fill="#1a1a1a" font-weight="bold" textLength="34.2" lengthAdjust="spacingAndGlyphs">RS485</text>
<text x="145.4" y="917" font-size="7.8" fill="#fff" font-weight="bold" textLength="126" lengthAdjust="spacing">RS-WD-LORAH-2-1防水壳系列</text>
<text x="169.4" y="925.4" font-size="7.8" fill="#fff" font-weight="bold" textLength="79" lengthAdjust="spacing">外延圆形不锈钢探头</text>
<text x="406" y="917" font-size="7.8" fill="#fff" font-weight="bold" textLength="126" lengthAdjust="spacing">RS-WD-LORAH-2-1防水壳系列</text>
<text x="430" y="925.4" font-size="7.8" fill="#fff" font-weight="bold" textLength="78" lengthAdjust="spacing">外延圆形不锈钢探头</text>
<text x="249.2" y="476.9" font-size="10.6" fill="#000" font-weight="bold" textLength="23" lengthAdjust="spacingAndGlyphs" stroke="#000" stroke-width="0.3">LoRa</text>
<path d="M253.09999999999997,468.2 Q257.4,463.79999999999995 261.7,468.2 Q257.4,469.59999999999997 253.09999999999997,468.2Z" fill="#5ec4ee"/>
<path d="M253.09999999999997,479.29999999999995 Q257.4,477.79999999999995 261.7,479.29999999999995 Q257.4,483.5 253.09999999999997,479.29999999999995Z" fill="#5ec4ee"/>
<text x="384.2" y="468.75" font-size="10.6" fill="#000" font-weight="bold" textLength="23" lengthAdjust="spacingAndGlyphs" stroke="#000" stroke-width="0.3">LoRa</text>
<path d="M388.09999999999997,460.3 Q392.4,455.9 396.7,460.3 Q392.4,461.7 388.09999999999997,460.3Z" fill="#5ec4ee"/>
<path d="M388.09999999999997,471.15 Q392.4,469.65 396.7,471.15 Q392.4,475.35 388.09999999999997,471.15Z" fill="#5ec4ee"/>
<text x="153.3" y="564.6" font-size="10.6" fill="#000" font-weight="bold" textLength="23" lengthAdjust="spacingAndGlyphs" stroke="#000" stroke-width="0.3">LoRa</text>
<path d="M157.2,556.5 Q161.5,552.1 165.8,556.5 Q161.5,557.9000000000001 157.2,556.5Z" fill="#5ec4ee"/>
<path d="M157.2,567.0 Q161.5,565.5 165.8,567.0 Q161.5,571.2 157.2,567.0Z" fill="#5ec4ee"/>
<text x="139.4" y="634.6" font-size="10.6" fill="#000" font-weight="bold" textLength="23" lengthAdjust="spacingAndGlyphs" stroke="#000" stroke-width="0.3">LoRa</text>
<path d="M143.29999999999998,626.5 Q147.6,622.1 151.9,626.5 Q147.6,627.9000000000001 143.29999999999998,626.5Z" fill="#5ec4ee"/>
<path d="M143.29999999999998,637.0 Q147.6,635.5 151.9,637.0 Q147.6,641.2 143.29999999999998,637.0Z" fill="#5ec4ee"/>
<text x="92.3" y="731.7" font-size="10.6" fill="#000" font-weight="bold" textLength="23" lengthAdjust="spacingAndGlyphs" stroke="#000" stroke-width="0.3">LoRa</text>
<path d="M96.2,723.4 Q100.5,719.0 104.8,723.4 Q100.5,724.8000000000001 96.2,723.4Z" fill="#5ec4ee"/>
<path d="M96.2,734.1 Q100.5,732.6 104.8,734.1 Q100.5,738.3000000000001 96.2,734.1Z" fill="#5ec4ee"/>
<text x="546.5" y="724.8" font-size="10.6" fill="#000" font-weight="bold" textLength="23" lengthAdjust="spacingAndGlyphs" stroke="#000" stroke-width="0.3">LoRa</text>
<path d="M550.4000000000001,716.3 Q554.7,711.9 559.0,716.3 Q554.7,717.7 550.4000000000001,716.3Z" fill="#5ec4ee"/>
<path d="M550.4000000000001,727.1999999999999 Q554.7,725.6999999999999 559.0,727.1999999999999 Q554.7,731.4 550.4000000000001,727.1999999999999Z" fill="#5ec4ee"/>
<path d="M96.45,429.3 L103.9,439.5 L89.0,439.5 Z" fill="#f7e21b" stroke="#222" stroke-width="1" stroke-linejoin="round"/>
<path d="M95.55,432.8 L97.35000000000001,432.8 L96.95,436 L95.95,436Z" fill="#111"/><circle cx="96.45" cy="437.6" r="0.9" fill="#111"/>
<path d="M276.3,428.5 L284.1,439.2 L268.5,439.2 Z" fill="#f7e21b" stroke="#222" stroke-width="1" stroke-linejoin="round"/>
<path d="M275.40000000000003,432 L277.2,432 L276.8,435.7 L275.8,435.7Z" fill="#111"/><circle cx="276.3" cy="437.3" r="0.9" fill="#111"/>
<path d="M392.2,428.7 L399.5,439.5 L384.9,439.5 Z" fill="#f7e21b" stroke="#222" stroke-width="1" stroke-linejoin="round"/>
<path d="M391.3,432.2 L393.09999999999997,432.2 L392.7,436 L391.7,436Z" fill="#111"/><circle cx="392.2" cy="437.6" r="0.9" fill="#111"/>
</g>
</svg>
</body></html>
